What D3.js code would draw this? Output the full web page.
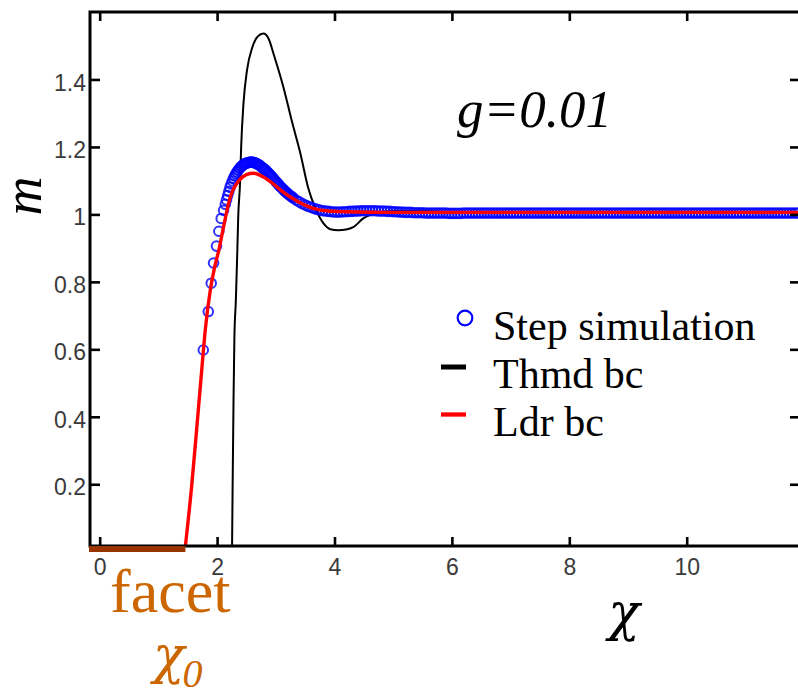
<!DOCTYPE html>
<html>
<head>
<meta charset="utf-8">
<script src="https://cdn.jsdelivr.net/npm/d3@7"></script>
<style>
  html, body { margin: 0; padding: 0; background: #fff; }
  svg { display: block; }
</style>
</head>
<body>
<svg id="chart" width="798" height="696"></svg>
<script>
// ---- axis ticks ----
const xTicks = [0, 2, 4, 6, 8, 10];
const xTickLabels = ["0", "2", "4", "6", "8", "10"];
const yTicks = [0.2, 0.4, 0.6, 0.8, 1, 1.2, 1.4];
const yTickLabels = ["0.2", "0.4", "0.6", "0.8", "1", "1.2", "1.4"];

// ---- facet edge position chi_0 ----
const facetEdge = 1.46;

// ---- thermodynamic boundary condition solution ----
const thmdX = [2.255, 2.265, 2.28, 2.295, 2.32, 2.345, 2.36, 2.39, 2.41, 2.45, 2.51, 2.6, 2.69, 2.79,
               2.88, 2.96, 3.13, 3.27, 3.42, 3.55, 3.67, 3.81, 3.93, 4.06, 4.2, 4.32, 4.49, 4.7,
               5.0, 5.5, 6.0, 7.0, 8.0, 9.0, 10.0, 11.0, 11.93];
const thmdM = [0.017, 0.2, 0.45, 0.637, 0.746, 0.894, 0.993, 1.09, 1.2, 1.33, 1.428, 1.495, 1.527, 1.536,
               1.52, 1.477, 1.377, 1.279, 1.18, 1.08, 1.02, 0.974, 0.956, 0.953, 0.955, 0.962, 0.988, 1.003,
               1.01, 1.01, 1.006, 1.004, 1.004, 1.004, 1.004, 1.004, 1.004];

// ---- ledder boundary condition solution ----
const ldrX = [1.46, 1.57, 1.67, 1.743, 1.80, 1.885, 1.96, 2.03, 2.11, 2.225, 2.37, 2.5, 2.62, 2.79,
              2.96, 3.08, 3.36, 3.64, 3.9, 4.21, 5.0, 6.0, 7.0, 8.0, 9.0, 10.0, 11.0, 11.93];
const ldrM = [0.017, 0.2, 0.4, 0.548, 0.66, 0.776, 0.845, 0.894, 0.963, 1.052, 1.10, 1.118, 1.122, 1.111,
              1.09, 1.072, 1.04, 1.018, 1.01, 1.008, 1.006, 1.006, 1.006, 1.006, 1.006, 1.006, 1.006, 1.006];

// ---- step simulation samples ----
const simX = [
  1.765, 1.85, 1.90, 1.94, 1.99, 2.03, 2.07, 2.11,
  2.14, 2.16, 2.18, 2.20, 2.22, 2.24, 2.26, 2.28, 2.30, 2.32,
  2.34, 2.36, 2.38, 2.40, 2.42, 2.44, 2.46, 2.48, 2.50, 2.52,
  2.54, 2.56, 2.58, 2.60, 2.62, 2.64, 2.66, 2.68, 2.70, 2.72,
  2.74, 2.76, 2.78, 2.80, 2.82, 2.84, 2.86, 2.88, 2.90, 2.92,
  2.94, 2.96, 2.98, 3.00, 3.02, 3.04, 3.06, 3.08, 3.10, 3.12,
  3.14, 3.16, 3.18, 3.20, 3.22, 3.24, 3.26, 3.28, 3.30,
  3.35, 3.40, 3.45, 3.50,
  3.55, 3.60, 3.65, 3.70, 3.75, 3.80, 3.85, 3.90, 3.95, 4.00,
  4.05, 4.10, 4.15, 4.20, 4.25, 4.30, 4.35, 4.40, 4.45, 4.50,
  4.55, 4.60, 4.65, 4.70, 4.75, 4.80, 4.85, 4.90, 4.95, 5.00,
  5.05, 5.10, 5.15, 5.20, 5.25, 5.30, 5.35, 5.40, 5.45, 5.50,
  5.55, 5.60, 5.65, 5.70, 5.75, 5.80, 5.85, 5.90, 5.95, 6.00,
  6.05, 6.10, 6.15, 6.20, 6.25, 6.30, 6.35, 6.40, 6.45, 6.50,
  6.55, 6.60, 6.65, 6.70, 6.75, 6.80, 6.85, 6.90, 6.95, 7.00,
  7.05, 7.10, 7.15, 7.20, 7.25, 7.30, 7.35, 7.40, 7.45, 7.50,
  7.55, 7.60, 7.65, 7.70, 7.75, 7.80, 7.85, 7.90, 7.95, 8.00,
  8.05, 8.10, 8.15, 8.20, 8.25, 8.30, 8.35, 8.40, 8.45, 8.50,
  8.55, 8.60, 8.65, 8.70, 8.75, 8.80, 8.85, 8.90, 8.95, 9.00,
  9.05, 9.10, 9.15, 9.20, 9.25, 9.30, 9.35, 9.40, 9.45, 9.50,
  9.55, 9.60, 9.65, 9.70, 9.75, 9.80, 9.85, 9.90, 9.95, 10.00,
  10.05, 10.10, 10.15, 10.20, 10.25, 10.30, 10.35, 10.40, 10.45, 10.50,
  10.55, 10.60, 10.65, 10.70, 10.75, 10.80, 10.85, 10.90, 10.95, 11.00,
  11.05, 11.10, 11.15, 11.20, 11.25, 11.30, 11.35, 11.40, 11.45, 11.50,
  11.55, 11.60, 11.65, 11.70, 11.75, 11.80, 11.85, 11.90
];
const simM = [
  0.598, 0.712, 0.796, 0.856, 0.906, 0.950, 0.988, 1.012,
  1.030, 1.043, 1.056, 1.068, 1.080, 1.090, 1.099, 1.107, 1.114, 1.120,
  1.126, 1.131, 1.136, 1.140, 1.143, 1.146, 1.149, 1.151, 1.152, 1.153,
  1.154, 1.155, 1.155, 1.155, 1.154, 1.153, 1.152, 1.150, 1.148, 1.146,
  1.143, 1.140, 1.137, 1.135, 1.132, 1.129, 1.125, 1.122, 1.118, 1.114,
  1.110, 1.106, 1.102, 1.098, 1.094, 1.090, 1.086, 1.082, 1.079, 1.075,
  1.072, 1.068, 1.065, 1.062, 1.059, 1.056, 1.054, 1.051, 1.048,
  1.042, 1.037, 1.032, 1.028,
  1.024, 1.021, 1.018, 1.015, 1.013, 1.011, 1.010, 1.009, 1.008, 1.007,
  1.007, 1.007, 1.008, 1.008, 1.009, 1.009, 1.010, 1.010, 1.011, 1.011,
  1.011, 1.011, 1.011, 1.011, 1.010, 1.010, 1.010, 1.009, 1.009, 1.008,
  1.008, 1.007, 1.007, 1.006, 1.006, 1.006, 1.005, 1.005, 1.005, 1.005,
  1.004, 1.004, 1.004, 1.004, 1.004, 1.004, 1.004, 1.004, 1.003, 1.003,
  1.003, 1.003, 1.003, 1.004, 1.004, 1.004, 1.004, 1.004, 1.004, 1.004,
  1.004, 1.004, 1.004, 1.004, 1.004, 1.004, 1.004, 1.004, 1.004, 1.004,
  1.004, 1.004, 1.004, 1.004, 1.004, 1.004, 1.004, 1.004, 1.004, 1.004,
  1.004, 1.004, 1.004, 1.004, 1.004, 1.004, 1.004, 1.004, 1.004, 1.004,
  1.004, 1.004, 1.004, 1.004, 1.004, 1.004, 1.004, 1.004, 1.004, 1.004,
  1.004, 1.004, 1.004, 1.004, 1.004, 1.004, 1.004, 1.004, 1.004, 1.004,
  1.004, 1.004, 1.004, 1.004, 1.004, 1.004, 1.004, 1.004, 1.004, 1.004,
  1.004, 1.004, 1.004, 1.004, 1.004, 1.004, 1.004, 1.004, 1.004, 1.004,
  1.004, 1.004, 1.004, 1.004, 1.004, 1.004, 1.004, 1.004, 1.004, 1.004,
  1.004, 1.004, 1.004, 1.004, 1.004, 1.004, 1.004, 1.004, 1.004, 1.004,
  1.004, 1.004, 1.004, 1.004, 1.004, 1.004, 1.004, 1.004, 1.004, 1.004,
  1.004, 1.004, 1.004, 1.004, 1.004, 1.004, 1.004, 1.004
];

// ---- legend entries ----
const legendLabels = ["Step simulation", "Thmd bc", "Ldr bc"];
const legendKinds = ["circle", "line", "line"];
const legendColors = ["#0000ff", "#000000", "#ff0000"];

// ---- layout ----
const svg = d3.select("#chart");
const plot = { left: 90, right: 800, top: 12, bottom: 546 };
const serif = "'Liberation Serif', 'Times New Roman', serif";
const greek = "'DejaVu Serif', 'Liberation Serif', serif";
const sans = "'Liberation Sans', Arial, sans-serif";

const x = d3.scaleLinear().domain([-0.165, 11.93]).range([plot.left, plot.right]);
const y = d3.scaleLinear().domain([0.017, 1.6]).range([plot.bottom, plot.top]);

svg.append("defs").append("clipPath").attr("id", "plot-clip")
  .append("rect")
  .attr("x", plot.left).attr("y", plot.top)
  .attr("width", plot.right - plot.left).attr("height", plot.bottom - plot.top);

// ---- curves ----
const line = d3.line().x(d => x(d[0])).y(d => y(d[1])).curve(d3.curveMonotoneX);
const curves = svg.append("g").attr("clip-path", "url(#plot-clip)");

curves.append("path")
  .datum(d3.zip(thmdX, thmdM))
  .attr("d", line)
  .attr("fill", "none")
  .attr("stroke", "#000")
  .attr("stroke-width", 2);

curves.append("g")
  .selectAll("circle")
  .data(d3.zip(simX, simM))
  .join("circle")
  .attr("cx", d => x(d[0]))
  .attr("cy", d => y(d[1]))
  .attr("r", 4.8)
  .attr("fill", "none")
  .attr("stroke", "#0000ff")
  .attr("stroke-opacity", 0.8)
  .attr("stroke-width", 2);

curves.append("path")
  .datum(d3.zip(ldrX, ldrM))
  .attr("d", line)
  .attr("fill", "none")
  .attr("stroke", "#ff0000")
  .attr("stroke-width", 3.4);

// ---- frame and axes ----
svg.append("rect")
  .attr("x", plot.left).attr("y", plot.top)
  .attr("width", plot.right - plot.left).attr("height", plot.bottom - plot.top)
  .attr("fill", "none").attr("stroke", "#000").attr("stroke-width", 3);

function styleAxis(g) {
  g.select(".domain").remove();
  g.selectAll(".tick line").attr("stroke", "#000").attr("stroke-width", 2.6);
  g.selectAll(".tick text")
    .attr("fill", "#3a3a3a")
    .style("font-family", sans)
    .style("font-size", "23px");
}

svg.append("g")
  .attr("transform", `translate(${plot.left},0)`)
  .call(d3.axisLeft(y).tickValues(yTicks).tickSize(-10).tickPadding(4)
        .tickFormat((d, i) => yTickLabels[i]))
  .call(styleAxis)
  .call(g => g.selectAll(".tick text").attr("dy", "0.46em"));

svg.append("g")
  .attr("transform", `translate(${plot.right},0)`)
  .call(d3.axisRight(y).tickValues(yTicks).tickSize(-10).tickFormat(""))
  .call(styleAxis);

svg.append("g")
  .attr("transform", `translate(0,${plot.bottom})`)
  .call(d3.axisBottom(x).tickValues(xTicks).tickSize(-9).tickPadding(12.7)
        .tickFormat((d, i) => xTickLabels[i]))
  .call(styleAxis);

svg.append("g")
  .attr("transform", `translate(0,${plot.top})`)
  .call(d3.axisTop(x).tickValues(xTicks).tickSize(-9).tickFormat(""))
  .call(styleAxis);

// ---- facet region under the axis ----
svg.append("rect")
  .attr("x", plot.left - 1)
  .attr("y", plot.bottom)
  .attr("width", x(facetEdge) - plot.left + 1)
  .attr("height", 6)
  .attr("fill", "#993300");

svg.append("text")
  .attr("x", 110).attr("y", 612)
  .attr("fill", "#cc6600")
  .style("font-family", serif)
  .style("font-size", "62px")
  .text("facet");

const chi0 = svg.append("text")
  .attr("x", 153).attr("y", 673)
  .attr("fill", "#cc6600")
  .style("font-style", "italic");
chi0.append("tspan").style("font-family", greek).style("font-size", "52px").text("χ");
chi0.append("tspan").attr("dy", 14).attr("dx", -2)
  .style("font-family", serif).style("font-size", "40px").text("0");

// ---- axis titles ----
svg.append("text")
  .attr("x", 624).attr("y", 630)
  .attr("text-anchor", "middle")
  .style("font-family", greek)
  .style("font-style", "italic")
  .style("font-size", "52px")
  .text("χ");

svg.append("text")
  .attr("transform", "translate(41,196) rotate(-90)")
  .attr("text-anchor", "middle")
  .style("font-family", serif)
  .style("font-style", "italic")
  .style("font-size", "54px")
  .text("m");

// ---- parameter note ----
svg.append("text")
  .attr("x", 457).attr("y", 127)
  .style("font-family", serif)
  .style("font-style", "italic")
  .style("font-size", "53px")
  .text("g=0.01");

// ---- legend ----
const legend = svg.append("g");
legendLabels.forEach((label, i) => {
  const baseY = 340 + i * 48;
  const markY = baseY - 21;
  if (legendKinds[i] === "circle") {
    legend.append("circle")
      .attr("cx", 465).attr("cy", markY - 1).attr("r", 7.3)
      .attr("fill", "none").attr("stroke", legendColors[i]).attr("stroke-width", 2.2);
  } else {
    legend.append("line")
      .attr("x1", 441).attr("x2", 466)
      .attr("y1", markY + (i === 1 ? 0 : -0.5)).attr("y2", markY + (i === 1 ? 0 : -0.5))
      .attr("stroke", legendColors[i])
      .attr("stroke-width", i === 1 ? 5 : 4.3);
  }
  legend.append("text")
    .attr("x", 493).attr("y", baseY)
    .style("font-family", serif)
    .style("font-size", "42px")
    .attr("fill", "#000")
    .text(label);
});
</script>
</body>
</html>
